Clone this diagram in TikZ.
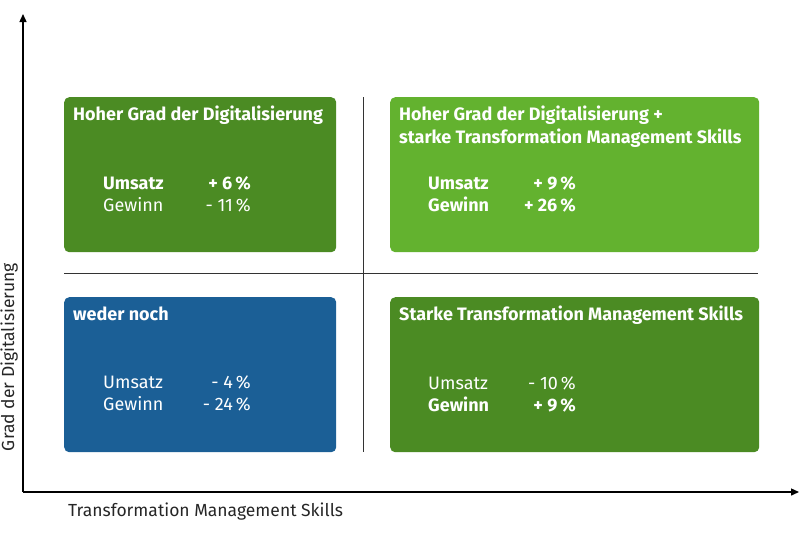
\documentclass[tikz,border=0pt]{standalone}
\usepackage{fontspec}
\setmainfont{Fira Sans}
\usetikzlibrary{arrows.meta}
\definecolor{quadgreen}{HTML}{4B8B23}
\definecolor{quadlight}{HTML}{63B22F}
\definecolor{quadblue}{HTML}{1B5F96}

\begin{document}
\begin{tikzpicture}[x=1pt, y=-1pt,
  quad/.style={rounded corners=5pt, minimum width=272pt, minimum height=155pt, anchor=north west, inner sep=0pt},
  quadwide/.style={quad, minimum width=369pt},
  quadtitle/.style={anchor=base west, text=white, inner sep=0pt, font=\bfseries\fontsize{18}{22}\selectfont},
  kpilabel/.style={anchor=base west, text=white, inner sep=0pt, font=\fontsize{18}{22}\selectfont},
  kpibold/.style={font=\bfseries\fontsize{18}{22}\selectfont},
  kpivalue/.style={kpilabel, anchor=base east},
  axislabel/.style={inner sep=0pt, text=black!85, font=\fontsize{17.5}{21}\selectfont}
]
  \useasboundingbox (0,0) rectangle (800,550);

  % axes
  \coordinate (origin) at (23,492);
  \coordinate (ytip) at (23,14);
  \coordinate (xtip) at (799,492);
  \draw[line width=1.4pt, -{Triangle[length=8pt, width=7pt]}] (origin) -- (ytip);
  \draw[line width=1.4pt, -{Triangle[length=8pt, width=7pt]}] (origin) -- (xtip);
  \node[axislabel, anchor=base west] (xlabel) at (68,516) {Transformation Management Skills};
  \node[axislabel, rotate=90, anchor=base] (ylabel) at (14,357) {Grad der Digitalisierung};

  % divider lines
  \coordinate (hleft) at (64,273);
  \coordinate (hright) at (758,273);
  \coordinate (vtop) at (363,97);
  \coordinate (vbottom) at (363,452);
  \draw[line width=1pt, black!80] (hleft) -- (hright);
  \draw[line width=1pt, black!80] (vtop) -- (vbottom);

  % quadrants
  \node[quad, fill=quadgreen] (digital) at (64,97) {};
  \node[quadwide, fill=quadlight] (both) at (390,97) {};
  \node[quad, fill=quadblue] (neither) at (64,297) {};
  \node[quadwide, fill=quadgreen] (skills) at (390,297) {};

  % top left
  \node[quadtitle] (digitaltitle) at (73,120) {Hoher Grad der Digitalisierung};
  \node[kpilabel, kpibold] (digitalumsatz) at (103,189) {Umsatz};
  \node[kpivalue, kpibold] (digitalumsatzval) at (251,189) {+ 6\,\%};
  \node[kpilabel] (digitalgewinn) at (103,211) {Gewinn};
  \node[kpivalue] (digitalgewinnval) at (251,211) {- 11\,\%};

  % top right
  \node[quadtitle] (bothtitle) at (399,120) {Hoher Grad der Digitalisierung +};
  \node[quadtitle] (bothtitlesub) at (399,143) {starke Transformation Management Skills};
  \node[kpilabel, kpibold] (bothumsatz) at (428,189) {Umsatz};
  \node[kpivalue, kpibold] (bothumsatzval) at (576,189) {+ 9\,\%};
  \node[kpilabel, kpibold] (bothgewinn) at (428,211) {Gewinn};
  \node[kpivalue, kpibold] (bothgewinnval) at (576,211) {+ 26\,\%};

  % bottom left
  \node[quadtitle] (neithertitle) at (73,320) {weder noch};
  \node[kpilabel] (neitherumsatz) at (103,388) {Umsatz};
  \node[kpivalue] (neitherumsatzval) at (251,388) {- 4\,\%};
  \node[kpilabel] (neithergewinn) at (103,410) {Gewinn};
  \node[kpivalue] (neithergewinnval) at (251,410) {- 24\,\%};

  % bottom right
  \node[quadtitle] (skillstitle) at (399,320) {Starke Transformation Management Skills};
  \node[kpilabel] (skillsumsatz) at (428,389) {Umsatz};
  \node[kpivalue] (skillsumsatzval) at (576,389) {- 10\,\%};
  \node[kpilabel, kpibold] (skillsgewinn) at (428,411) {Gewinn};
  \node[kpivalue, kpibold] (skillsgewinnval) at (576,411) {+ 9\,\%};
\end{tikzpicture}
\end{document}
